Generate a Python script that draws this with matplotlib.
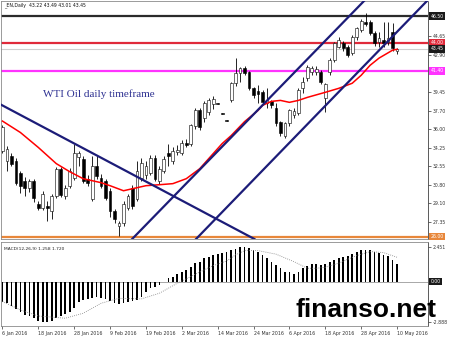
import matplotlib
matplotlib.use("Agg")
import matplotlib.pyplot as plt
import matplotlib.transforms as mtransforms

# daily WTI candles, bar 0 = 6 Jan 2016, bar 88 = 10 May 2016
opens = [34.01, 33.08, 33.55, 33.08, 31.96, 31.22, 30.56, 31.22, 29.07, 28.70,
         28.89, 28.42, 29.82, 32.33, 29.82, 30.75, 31.50, 33.45, 33.27, 31.40,
         29.54, 32.61, 31.50, 31.22, 30.28, 28.42, 27.00, 27.30, 28.70, 30.56,
         29.54, 31.50, 31.70, 31.96, 33.36, 31.22, 32.15, 33.83, 33.00, 33.90,
         33.83, 34.76, 34.66, 36.25, 37.74, 36.99, 37.55, 38.30, 38.40, 37.42,
         36.82, 38.67, 40.26, 41.19, 41.65, 41.28, 39.79, 39.50, 39.42, 38.39,
         38.60, 38.00, 36.62, 35.41, 36.53, 37.30, 37.46, 39.79, 40.72, 41.28,
         41.30, 41.28, 38.90, 41.28, 42.40, 43.60, 44.00, 43.60, 43.05, 44.54,
         45.20, 45.94, 45.94, 44.92, 44.10, 44.30, 44.10, 45.00, 43.22]
highs = [36.34, 34.48, 33.80, 33.30, 32.15, 31.60, 31.40, 31.40, 29.30, 30.30,
         29.35, 30.00, 32.50, 32.50, 30.80, 32.40, 34.66, 34.01, 33.50, 31.70,
         33.55, 33.55, 31.80, 31.40, 30.50, 28.60, 27.50, 29.35, 30.00, 30.80,
         33.00, 33.30, 33.00, 33.60, 33.60, 32.60, 33.50, 34.66, 34.30, 34.50,
         35.00, 35.10, 36.50, 38.00, 38.00, 38.60, 38.90, 39.10, 38.45, 37.46,
         36.86, 40.40, 42.60, 41.80, 41.90, 41.40, 39.90, 40.07, 39.60, 39.80,
         38.70, 38.40, 36.80, 36.70, 37.90, 38.00, 39.80, 40.80, 42.00, 41.90,
         41.90, 41.50, 40.30, 42.60, 44.10, 44.54, 44.20, 43.80, 44.70, 45.50,
         46.20, 46.78, 46.10, 45.10, 45.00, 45.94, 45.94, 45.90, 43.49]
lows = [33.83, 32.15, 32.60, 30.80, 30.10, 29.80, 30.20, 29.20, 28.50, 28.50,
        27.49, 27.67, 29.60, 29.70, 29.50, 30.50, 31.30, 32.60, 31.03, 30.70,
        29.30, 31.40, 30.50, 29.40, 27.80, 27.30, 26.09, 27.00, 28.50, 28.60,
        29.30, 31.20, 31.40, 31.70, 31.20, 30.90, 31.90, 32.60, 32.80, 33.60,
        33.60, 34.30, 34.40, 36.00, 35.90, 36.70, 37.30, 37.90, 38.30, 37.38,
        36.78, 38.50, 40.00, 40.35, 41.00, 39.60, 38.90, 38.40, 38.30, 38.00,
        38.00, 36.30, 35.40, 35.20, 36.30, 37.00, 37.30, 39.40, 40.50, 41.00,
        41.00, 40.20, 37.55, 41.00, 42.20, 43.50, 43.30, 42.70, 42.87, 44.30,
        45.00, 45.60, 44.70, 43.70, 43.60, 43.60, 43.80, 43.30, 43.01]
closes = [36.16, 34.20, 32.80, 31.03, 30.75, 30.56, 31.22, 29.63, 28.70, 30.00,
          28.70, 29.82, 32.33, 29.90, 30.56, 32.15, 33.74, 33.83, 31.22, 31.03,
          32.61, 31.68, 30.75, 29.63, 28.42, 27.67, 27.30, 29.07, 29.82, 28.89,
          32.15, 32.89, 32.60, 33.36, 31.40, 32.33, 33.27, 33.55, 34.01, 34.10,
          34.76, 34.50, 36.34, 37.74, 36.16, 38.39, 38.67, 38.80, 38.35, 37.40,
          36.80, 40.26, 41.19, 41.65, 41.19, 39.79, 39.14, 39.30, 38.49, 38.67,
          38.20, 36.53, 35.60, 36.53, 37.74, 37.70, 39.60, 40.35, 41.75, 41.65,
          41.60, 40.35, 40.20, 42.40, 43.98, 44.30, 43.52, 42.87, 44.54, 45.38,
          46.03, 45.80, 44.92, 43.98, 44.50, 44.00, 44.50, 43.52, 43.45]

# red moving average
ma_bars = [0, 4, 8, 12, 15, 18, 22, 24, 27, 29, 32, 35, 38, 41, 44, 47, 49, 51,
           54, 57, 58, 60, 62, 64, 66, 68, 72, 75, 78, 80, 82, 84, 87, 88]
ma_vals = [36.75, 35.69, 34.30, 32.80, 32.05, 31.40, 31.03, 30.75, 30.28, 30.47,
           30.75, 30.84, 30.94, 31.40, 32.33, 33.73, 34.66, 35.40, 36.70, 37.74,
           38.21, 38.58, 38.67, 38.49, 38.67, 38.95, 39.42, 39.79, 40.26, 41.00,
           41.93, 42.60, 43.33, 43.42]

# MACD(12,26,9) histogram + signal
macd_hist = [-1.42, -1.54, -1.71, -1.94, -2.18, -2.37, -2.44, -2.60, -2.79, -2.85,
             -2.89, -2.79, -2.56, -2.42, -2.32, -2.13, -1.85, -1.47, -1.33, -1.26,
             -1.14, -1.09, -1.14, -1.23, -1.38, -1.54, -1.61, -1.54, -1.42, -1.38,
             -1.33, -1.07, -0.76, -0.48, -0.36, -0.24, -0.05, 0.23, 0.35, 0.52,
             0.66, 0.80, 1.01, 1.30, 1.41, 1.65, 1.77, 1.89, 1.96, 2.00,
             2.10, 2.20, 2.33, 2.42, 2.45, 2.36, 2.24, 2.12, 1.89, 1.65,
             1.41, 1.18, 0.94, 0.66, 0.66, 0.52, 0.70, 0.94, 1.11, 1.23,
             1.23, 1.18, 1.23, 1.41, 1.53, 1.70, 1.77, 1.84, 1.94, 2.08,
             2.20, 2.24, 2.20, 2.08, 2.01, 1.89, 1.82, 1.55, 1.26]
sig_bars = [0, 4, 8, 14, 18, 22, 26, 31, 35, 39, 43, 47, 50, 52, 54, 57, 61, 65,
            68, 70, 72, 75, 79, 82, 85, 88]
sig_vals = [-1.42, -2.01, -2.44, -2.60, -2.25, -1.54, -1.19, -1.23, -0.83, -0.12,
            0.52, 1.13, 1.46, 1.89, 2.19, 2.19, 1.94, 1.41, 0.94, 0.94, 1.01, 1.30,
            1.84, 2.12, 2.05, 1.72]

date_bars = [0, 8, 16, 24, 32, 40, 48, 56, 64, 72, 80, 88]
date_labels = ['6 Jan 2016', '18 Jan 2016', '28 Jan 2016', '9 Feb 2016',
               '19 Feb 2016', '2 Mar 2016', '14 Mar 2016', '24 Mar 2016',
               '6 Apr 2016', '18 Apr 2016', '28 Apr 2016', '10 May 2016']

price_ticks = [44.65, 42.90, 39.45, 37.70, 36.00, 34.25, 32.55, 30.80, 29.10, 27.35]

# horizontal levels: value, line colour, label box colour
levels = [46.50, 44.00, 43.45, 41.40, 26.00]
level_colors = ['#2b2b2b', '#e02a3a', '#cfcfcf', '#ff33ff', '#e8873a']
level_boxes = ['#1a1a1a', '#e02a3a', '#1a1a1a', '#ff33ff', '#e8873a']

# trend lines (bar, price) pairs
trend_lines = [((-0.45, 38.30), (57.0, 25.62)),
               ((28.95, 25.81), (80.85, 47.99)),
               ((43.2, 25.81), (87.08, 44.64))]

fig = plt.figure(figsize=(4.5, 3.37), dpi=100)
ax = fig.add_axes([0.003, 98 / 337, 0.948, 238 / 337])
ax2 = fig.add_axes([0.003, 11 / 337, 0.948, 84 / 337])

for a in (ax, ax2):
    for s in a.spines.values():
        s.set_color('#8a8a8a')
        s.set_linewidth(0.6)
    a.spines['right'].set_color('#404040')
    a.set_xlim(-0.25, 94.9)

# levels
for lv, col in zip(levels, level_colors):
    lw = 0.8 if lv == 43.45 else 1.6
    ax.axhline(lv, color=col, lw=lw, zorder=1)

# candles
for i in range(len(opens)):
    o, h, l, c = opens[i], highs[i], lows[i], closes[i]
    ax.vlines(i, l, h, color='black', lw=0.6, zorder=2)
    bull = c >= o
    body = max(abs(c - o), 0.06)
    ax.bar(i, body, bottom=min(o, c), width=0.62,
           color='white' if bull else 'black', edgecolor='black',
           linewidth=0.4, zorder=2.5)

ax.plot(ma_bars, ma_vals, color='#ff0000', lw=1.1, zorder=3)

for p1, p2 in trend_lines:
    ax.axline(p1, p2, color='#1c1c78', lw=1.6, zorder=4)

ax.set_ylim(25.80, 47.90)
ax.set_xticks([])
ax.yaxis.tick_right()
ax.set_yticks(price_ticks)
ax.set_yticklabels([f'{v:.2f}' for v in price_ticks])
ax.tick_params(axis='y', labelsize=3.3, length=2, width=0.5, pad=1.5,
               colors='#333333')

trans = mtransforms.blended_transform_factory(ax.transAxes, ax.transData)
for lv, bg in zip(levels, level_boxes):
    ax.text(1.006, lv, f'{lv:.2f}', transform=trans, fontsize=3.3,
            color='white', va='center', ha='left', zorder=6,
            bbox=dict(boxstyle='square,pad=0.25', fc=bg, ec='none'))

# MACD panel
ax2.axhline(0, color='#9a9a9a', lw=0.6, zorder=1)
ax2.bar(range(len(macd_hist)), macd_hist, width=0.38, color='black', zorder=2)
ax2.plot(sig_bars, sig_vals, color='#808080', lw=0.6, linestyle=(0, (1, 1.5)),
         zorder=3)
ax2.set_ylim(-3.15, 2.80)
ax2.yaxis.tick_right()
ax2.set_yticks([2.451, -2.888])
ax2.set_yticklabels(['2.451', '-2.888'])
ax2.tick_params(axis='y', labelsize=3.3, length=2, width=0.5, pad=1.5,
                colors='#333333')
trans2 = mtransforms.blended_transform_factory(ax2.transAxes, ax2.transData)
ax2.text(1.006, 0, '0.00', transform=trans2, fontsize=3.3, color='white',
         va='center', ha='left',
         bbox=dict(boxstyle='square,pad=0.25', fc='#1a1a1a', ec='none'))
ax2.set_xticks(date_bars)
ax2.set_xticklabels(date_labels, ha='left')
ax2.tick_params(axis='x', labelsize=3.4, length=2, width=0.5, pad=1.5,
                colors='#333333')

# texts
fig.text(4 / 450, 1 - 5 / 337, '_EN,Daily  43.22 43.49 43.01 43.45',
         fontsize=3.3, va='center', color='#111111')
fig.text(43 / 450, 1 - 94 / 337, 'WTI Oil daily timeframe',
         family='Liberation Serif', fontsize=8, color='#2e3192', va='center')
fig.text(4 / 450, 1 - 249 / 337, 'MACD(12,26,9) 1.258 1.720',
         fontsize=3.2, va='center', color='#222222')
fig.text(295 / 450, 1 - 317 / 337, 'finanso.net', family='Liberation Sans',
         weight='bold', fontsize=19, va='baseline', color='black')

fig.savefig('out.png', dpi=100)
